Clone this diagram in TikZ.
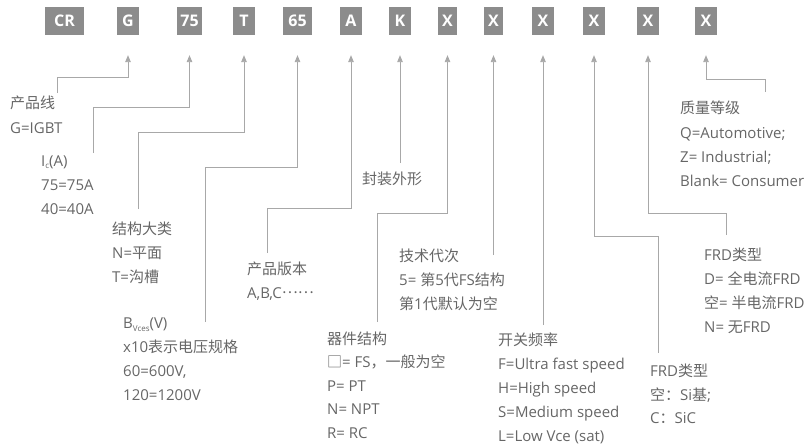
\documentclass[tikz,border=0pt]{standalone}
\usepackage{fontspec}
\setmainfont{Open Sans}
\newfontfamily\cjk{Noto Sans CJK SC}
\usetikzlibrary{arrows.meta,calc}
\definecolor{boxgray}{HTML}{8C8C8C}
\definecolor{txtgray}{HTML}{666666}
\definecolor{linegray}{HTML}{A8A8A8}
\newcommand\zh[1]{{\cjk #1}}
\newcommand\subtxt[1]{\raisebox{-2.5pt}{\fontsize{8}{8}\selectfont #1}}
\begin{document}
\begin{tikzpicture}[x=1pt,y=-1pt,
  codebox/.style={fill=boxgray,text=white,font=\fontsize{16}{16}\selectfont\bfseries,minimum height=28.5pt,inner sep=0pt,anchor=center},
  lbl/.style={anchor=base west,inner sep=0pt,text=txtgray,font=\fontsize{15}{18}\selectfont},
  conn/.style={draw=linegray,line width=0.9pt,-{Triangle[length=7pt,width=5.5pt]}}]
\useasboundingbox (0,0) rectangle (809,445);
% code boxes
\node[codebox,minimum width=39pt] (bCR) at (64.5,21.2) {CR};
\node[codebox,minimum width=22pt] (bG) at (128,21.2) {G};
\node[codebox,minimum width=25pt] (b75) at (189.5,21.2) {75};
\node[codebox,minimum width=22pt] (bT) at (244,21.2) {T};
\node[codebox,minimum width=29pt] (b65) at (297.5,21.2) {65};
\node[codebox,minimum width=22pt] (bA) at (351,21.2) {A};
\node[codebox,minimum width=22pt] (bK) at (400,21.2) {K};
\node[codebox,minimum width=19pt] (bX1) at (447.5,21.2) {X};
\node[codebox,minimum width=19pt] (bX2) at (493.5,21.2) {X};
\node[codebox,minimum width=22pt] (bX3) at (543,21.2) {X};
\node[codebox,minimum width=22pt] (bX4) at (594,21.2) {X};
\node[codebox,minimum width=22pt] (bX5) at (648,21.2) {X};
\node[codebox,minimum width=22pt] (bX6) at (706,21.2) {X};
% arrow tips below boxes
\foreach \b in {G,75,T,65,A,K,X1,X2,X3,X4,X5,X6}{
  \coordinate (t\b) at ([yshift=-19.5pt]b\b.south);
}
% free ends
\coordinate (eG) at (57,93);
\coordinate (e75) at (93,153);
\coordinate (eT) at (138,209);
\coordinate (e65) at (205,322);
\coordinate (eA) at (267,253);
\coordinate (eK) at (400,163);
\coordinate (eX1) at (377,322);
\coordinate (eX2) at (493.5,255);
\coordinate (eX3) at (543,325);
\coordinate (eX4) at (658,353);
\coordinate (eX5) at (726,235);
\coordinate (eX6) at (765,92);
% connectors
\draw[conn] (eG) |- ($(tG)+(0,22)$) -- (tG);
\draw[conn] (e75) |- ($(t75)+(0,52)$) -- (t75);
\draw[conn] (eT) |- ($(tT)+(0,77)$) -- (tT);
\draw[conn] (e65) |- ($(t65)+(0,112)$) -- (t65);
\draw[conn] (eA) |- ($(tA)+(0,153)$) -- (tA);
\draw[conn] (eK) -- (tK);
\draw[conn] (eX1) |- ($(tX1)+(0,158)$) -- (tX1);
\draw[conn] (eX2) -- (tX2);
\draw[conn] (eX3) -- (tX3);
\draw[conn] (eX4) |- ($(tX4)+(0,181)$) -- (tX4);
\draw[conn] (eX5) |- ($(tX5)+(0,158)$) -- (tX5);
\draw[conn] (eX6) |- ($(tX6)+(0,24)$) -- (tX6);
% labels
\node[lbl] (l1a) at (10,108.5) {\zh{产品线}};
\node[lbl] (l1b) at (10,133.5) {G=IGBT};
\node[lbl] (l2a) at (41,166) {I\subtxt{c}(A)};
\node[lbl] (l2b) at (41,190) {75=75A};
\node[lbl] (l2c) at (41,214) {40=40A};
\node[lbl] (l3a) at (112,234.5) {\zh{结构大类}};
\node[lbl] (l3b) at (112,258.5) {N=\zh{平面}};
\node[lbl] (l3c) at (112,282) {T=\zh{沟槽}};
\node[lbl] (l4a) at (123,328.5) {B\subtxt{Vces}(V)};
\node[lbl] (l4b) at (123,352.5) {x10\zh{表示电压规格}};
\node[lbl] (l4c) at (123,376.5) {60=600V,};
\node[lbl] (l4d) at (123,400) {120=1200V};
\node[lbl] (l5a) at (247,274) {\zh{产品版本}};
\node[lbl] (l5b) at (247,298) {A,B,C\raisebox{4.5pt}{\zh{……}}};
\node[lbl] (l6a) at (362,184) {\zh{封装外形}};
\node[lbl] (l7a) at (399,261.5) {\zh{技术代次}};
\node[lbl] (l7b) at (399,285.5) {5= \zh{第}5\zh{代}FS\zh{结构}};
\node[lbl] (l7c) at (399,309.5) {\zh{第}1\zh{代默认为空}};
\node[lbl] (l8a) at (327,344) {\zh{器件结构}};
\node[lbl] (l8b) at (327,367.5) {\zh{□}= FS\zh{，一般为空}};
\node[lbl] (l8c) at (327,391.5) {P= PT};
\node[lbl] (l8d) at (327,414.5) {N= NPT};
\node[lbl] (l8e) at (327,438.5) {R= RC};
\node[lbl] (l9a) at (498,345.5) {\zh{开关频率}};
\node[lbl] (l9b) at (498,369.5) {F=Ultra fast speed};
\node[lbl] (l9c) at (498,393.5) {H=High speed};
\node[lbl] (l9d) at (498,417.5) {S=Medium speed};
\node[lbl] (l9e) at (498,441) {L=Low Vce (sat)};
\node[lbl] (l10a) at (650,376.5) {FRD\zh{类型}};
\node[lbl] (l10b) at (650,400.5) {\zh{空：}Si\zh{基};};
\node[lbl] (l10c) at (650,423.5) {C\zh{：}SiC};
\node[lbl] (l11a) at (704,260.5) {FRD\zh{类型}};
\node[lbl] (l11b) at (704,284.5) {D= \zh{全电流}FRD};
\node[lbl] (l11c) at (704,308.5) {\zh{空}= \zh{半电流}FRD};
\node[lbl] (l11d) at (704,332.5) {N= \zh{无}FRD};
\node[lbl] (l12a) at (680,113.5) {\zh{质量等级}};
\node[lbl] (l12b) at (680,138.5) {Q=Automotive;};
\node[lbl] (l12c) at (680,162.5) {Z= Industrial;};
\node[lbl] (l12d) at (680,186.5) {Blank= Consumer};
\end{tikzpicture}
\end{document}
